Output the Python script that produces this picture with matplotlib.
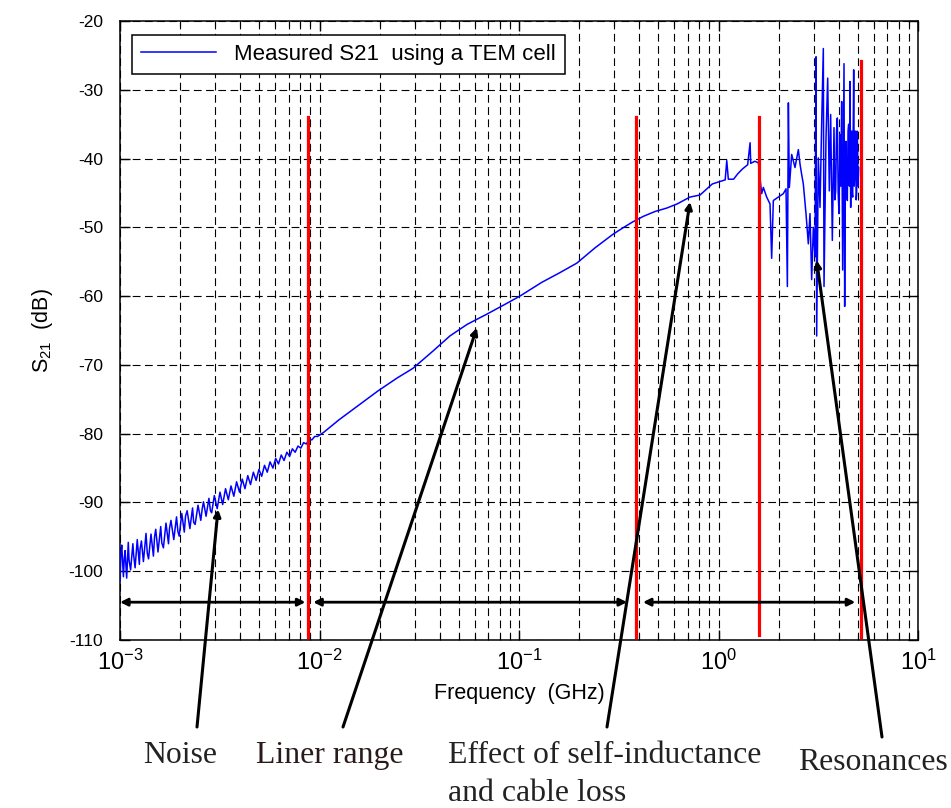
import matplotlib
matplotlib.use("Agg")
import matplotlib.pyplot as plt
import numpy as np

plt.rcParams["font.family"] = ["Liberation Sans", "DejaVu Sans"]
plt.rcParams["mathtext.fontset"] = "custom"
plt.rcParams["mathtext.rm"] = "Liberation Sans"
plt.rcParams["mathtext.it"] = "Liberation Sans:italic"
plt.rcParams["axes.unicode_minus"] = False

# --- measured S21 ----------------------------------------------------------
# noisy low-frequency part, frequency in MHz
noise_f_mhz = [1.00, 1.01, 1.02, 1.04, 1.05, 1.06, 1.08, 1.10, 1.11, 1.13, 1.16, 1.17,
               1.19, 1.22, 1.25, 1.26, 1.28, 1.31, 1.35, 1.37, 1.39, 1.43, 1.47, 1.49,
               1.51, 1.55, 1.60, 1.62, 1.65, 1.70, 1.75, 1.77, 1.80, 1.86, 1.92, 1.95,
               1.98, 2.04, 2.10, 2.13, 2.17, 2.24, 2.31, 2.34, 2.38, 2.46, 2.54, 2.58,
               2.62, 2.70, 2.79, 2.84, 2.88, 2.97, 3.07, 3.17, 3.27, 3.38, 3.49, 3.60,
               3.72, 3.84, 3.97, 4.10, 4.23, 4.37, 4.51, 4.66, 4.81, 4.97, 5.13, 5.30,
               5.47, 5.65, 5.84, 6.03, 6.23, 6.43, 6.64, 6.86, 7.08, 7.31, 7.55, 7.80,
               8.06, 8.32, 8.59, 8.87, 9.16, 9.46, 9.77, 10.0]
noise_db = [-101.5, -97.5, -96.2, -100.8, -98.2, -97.0, -101.0, -95.8, -98.4, -99.8, -96.0, -97.6,
            -99.5, -95.4, -99.0, -96.8, -95.6, -98.6, -94.5, -97.4, -98.2, -94.6, -97.8, -95.0,
            -93.9, -97.2, -93.5, -95.9, -96.6, -93.0, -96.0, -93.8, -92.6, -95.4, -92.1, -94.2,
            -94.9, -91.6, -94.3, -92.0, -91.2, -93.8, -90.8, -92.9, -93.2, -90.4, -92.6, -91.0,
            -89.9, -92.0, -89.4, -91.2, -91.5, -89.0, -90.9, -88.5, -90.3, -88.0, -89.6, -87.6,
            -89.1, -87.0, -88.5, -86.6, -88.0, -86.1, -87.4, -85.6, -86.8, -85.2, -86.2, -84.6,
            -85.6, -84.1, -85.0, -83.6, -84.4, -83.1, -83.9, -82.7, -83.3, -82.2, -82.7, -81.8,
            -82.1, -81.3, -81.5, -80.8, -80.9, -80.4, -80.4, -80.2]

# smooth middle part, frequency in GHz
mid_f = [0.0105, 0.0125, 0.015, 0.0196, 0.0245, 0.0294, 0.037, 0.045, 0.055,
         0.0692, 0.085, 0.101, 0.13, 0.16, 0.195, 0.24, 0.296, 0.335, 0.372,
         0.42, 0.48, 0.55, 0.62, 0.719, 0.808, 0.93, 1.00, 1.08, 1.10, 1.12,
         1.19, 1.25, 1.32, 1.40, 1.44, 1.45, 1.52, 1.584]
mid_db = [-79.8, -78.0, -76.3, -73.8, -71.9, -70.5, -68.0, -65.8, -64.1,
          -62.6, -61.2, -60.0, -58.0, -56.6, -55.2, -53.0, -51.0, -50.0, -49.2,
          -48.4, -47.7, -47.2, -46.6, -45.6, -45.3, -43.7, -43.4, -43.1, -40.3, -43.0,
          -43.0, -42.2, -41.5, -40.9, -37.7, -40.7, -40.4, -40.6]

# resonance region, frequency in GHz
res_f = [1.646, 1.678, 1.744, 1.812, 1.847, 1.883, 1.995, 2.113, 2.180, 2.214,
         2.240, 2.265, 2.327, 2.418, 2.513, 2.562, 2.611, 2.662, 2.745, 2.820,
         2.875, 2.931, 2.988, 3.046, 3.082, 3.105, 3.165, 3.227, 3.289, 3.353,
         3.380, 3.458, 3.526, 3.593, 3.649, 3.720, 3.793, 3.830, 3.866, 3.905,
         3.942, 3.980, 4.018, 4.066, 4.100, 4.144, 4.192, 4.257, 4.290, 4.320,
         4.356, 4.390, 4.424, 4.460, 4.493, 4.530, 4.563, 4.598, 4.625, 4.651,
         4.680, 4.705, 4.735, 4.760, 4.790, 4.815, 4.845, 4.871, 4.900, 4.927,
         4.955, 4.984, 5.010, 5.042]
res_db = [-45.1, -44.2, -45.6, -46.6, -54.5, -46.1, -45.6, -45.1, -44.4, -58.6,
          -31.9, -44.2, -39.4, -41.3, -38.7, -40.8, -42.3, -43.7, -48.0, -52.4,
          -48.0, -57.6, -50.0, -54.3, -25.2, -65.8, -39.9, -47.1, -35.0, -24.0,
          -58.6, -37.0, -28.3, -44.7, -33.6, -51.9, -35.5, -46.0, -44.7, -36.0,
          -34.1, -45.0, -48.0, -36.5, -44.0, -31.7, -56.2, -26.2, -61.5, -40.0,
          -37.5, -45.0, -46.1, -36.0, -35.0, -44.0, -28.8, -47.1, -38.0, -36.0,
          -45.0, -45.6, -35.0, -27.1, -44.0, -42.3, -36.0, -37.5, -46.0, -45.1,
          -36.0, -38.9, -44.0, -41.3]

# red marker lines: frequency, top, bottom (dB)
red_f = [0.0088, 0.386, 1.6, 5.18]
red_top = [-34.0, -34.0, -34.0, -25.8]
red_bottom = [-109.5, -109.5, -109.3, -109.5]

# double arrows at the bottom of the plot
span_start = [1.0e-3, 9.3e-3, 0.418]
span_end = [8.5e-3, 0.348, 4.85]
span_db = -104.5

# labels below the axes and the point each one points to
label_text = ["Noise", "Liner range", "Effect of self-inductance", "Resonances"]
label_tip_f = [3.1e-3, 0.0615, 0.72, 3.105]
label_tip_db = [-91.0, -64.6, -46.3, -54.8]
label_tail_px = [(197, 81), (343, 81), (607, 81), (882, 71)]

freq = np.array([f / 1000.0 for f in noise_f_mhz] + mid_f + res_f)
s21 = np.array(noise_db + mid_db + res_db)

fig = plt.figure(figsize=(9.51, 8.08), dpi=100)
ax = fig.add_axes([0.1262, 0.2079, 0.8391, 0.7661])

ax.semilogx(freq, s21, color="blue", lw=1.1,
            label="Measured S21  using a TEM cell", zorder=3)

for f, top, bot in zip(red_f, red_top, red_bottom):
    ax.plot([f, f], [bot, top], color="red", lw=2.3, zorder=4)

for a, b in zip(span_start, span_end):
    ax.annotate("", xy=(b, span_db), xytext=(a, span_db),
                arrowprops=dict(arrowstyle="<|-|>", color="k", lw=2.0,
                                mutation_scale=11, shrinkA=0, shrinkB=0),
                zorder=5)

ax.set_xlim(1e-3, 1e1)
ax.set_ylim(-110, -20)
ax.set_yticks(np.arange(-110, -19, 10))
ax.set_xticks([1e-3, 1e-2, 1e-1, 1e0, 1e1])
ax.set_xticklabels([r"$10^{-3}$", r"$10^{-2}$", r"$10^{-1}$", r"$10^{0}$", r"$10^{1}$"])

ax.grid(which="major", axis="both", color="k", ls=(0, (7, 4)), lw=0.8)
ax.grid(which="minor", axis="x", color="k", ls=(0, (7, 4)), lw=0.8)
ax.tick_params(which="both", direction="in", top=True, right=True)
ax.tick_params(which="major", length=7, width=1)
ax.tick_params(which="minor", length=4, width=0.8)
ax.tick_params(axis="y", labelsize=12.5, pad=12)
ax.tick_params(axis="x", labelsize=17, pad=7)
for sp in ax.spines.values():
    sp.set_linewidth(1.1)

ax.set_xlabel("Frequency  (GHz)", fontsize=15.5, labelpad=6)
ax.set_ylabel(r"S$_{21}$  (dB)", fontsize=15.5, labelpad=10)

leg = ax.legend(loc="upper left", bbox_to_anchor=(0.015, 0.977), borderaxespad=0,
                fontsize=16, handlelength=3.4, fancybox=False, framealpha=1,
                edgecolor="k", borderpad=0.4)
leg.get_frame().set_linewidth(1.1)

for text, tf, tdb, tail in zip(label_text, label_tip_f, label_tip_db, label_tail_px):
    ax.annotate("", xy=(tf, tdb), xycoords="data",
                xytext=tail, textcoords="figure pixels",
                arrowprops=dict(arrowstyle="-|>", color="k", lw=2.2,
                                mutation_scale=10, shrinkA=0, shrinkB=0),
                annotation_clip=False, zorder=6)

serif = ["Liberation Serif", "DejaVu Serif"]
W, H = 951.0, 808.0
fig.text(180 / W, 1 - 763 / H, label_text[0], family=serif, fontsize=22.9,
         ha="center", va="baseline", color="#222222")
fig.text(330 / W, 1 - 763 / H, label_text[1], family=serif, fontsize=22.9,
         ha="center", va="baseline", color="#2a1a1a")
fig.text(448 / W, 1 - 763 / H, label_text[2], family=serif, fontsize=22.9,
         ha="left", va="baseline", color="#222222")
fig.text(448 / W, 1 - 801 / H, "and cable loss", family=serif, fontsize=22.9,
         ha="left", va="baseline", color="#222222")
fig.text(798 / W, 1 - 770 / H, label_text[3], family=serif, fontsize=22.9,
         ha="left", va="baseline", color="#222222")

fig.savefig("out.png", dpi=100)
